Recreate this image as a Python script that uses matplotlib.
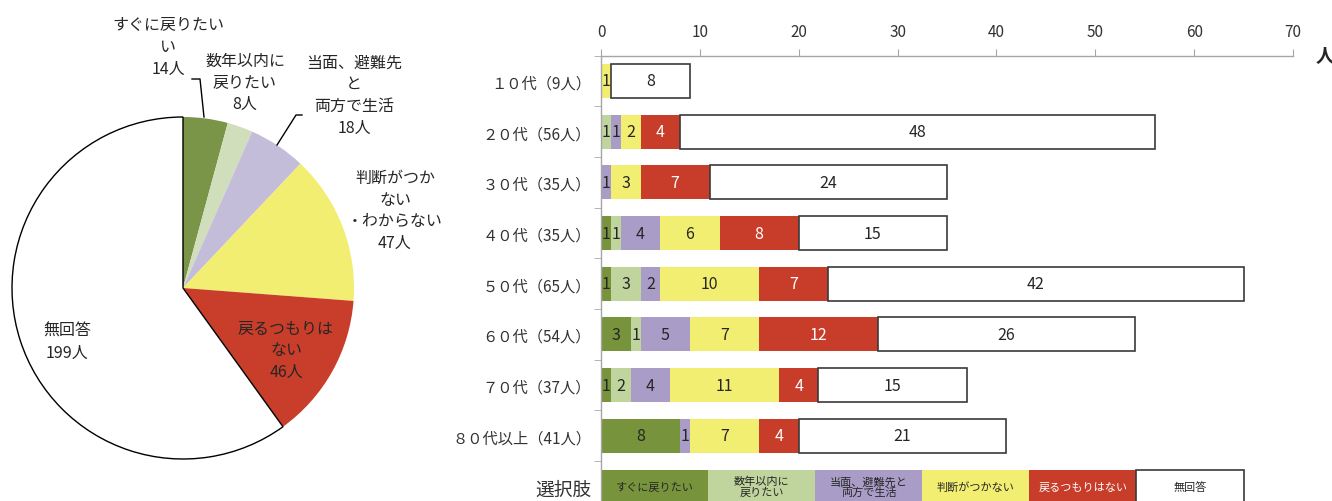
import matplotlib
matplotlib.use("Agg")
import matplotlib.pyplot as plt
import numpy as np

plt.rcParams['font.family'] = ['Noto Sans CJK JP', 'DejaVu Sans']

# ---- data ----
choices = ["すぐに戻りたい", "数年以内に\n戻りたい", "当面、避難先と\n両方で生活",
           "判断がつかない", "戻るつもりはない", "無回答"]
pie_values = [14, 8, 18, 47, 46, 199]
pie_labels = ["すぐに戻りたい\nい\n14人", "数年以内に\n戻りたい\n8人",
              "当面、避難先\nと\n両方で生活\n18人", "判断がつか\nない\n・わからない\n47人",
              "戻るつもりは\nない\n46人", "無回答\n199人"]

age_groups = ["１０代（9人）", "２０代（56人）", "３０代（35人）", "４０代（35人）",
              "５０代（65人）", "６０代（54人）", "７０代（37人）", "８０代以上（41人）"]
soon =      [0, 0, 0, 1, 1, 3, 1, 8]
few_years = [0, 1, 0, 1, 3, 1, 2, 0]
both =      [0, 1, 1, 4, 2, 5, 4, 1]
undecided = [1, 2, 3, 6, 10, 7, 11, 7]
no_return = [0, 4, 7, 8, 7, 12, 4, 4]
no_answer = [8, 48, 24, 15, 42, 26, 15, 21]
series = [soon, few_years, both, undecided, no_return, no_answer]
x_ticks = [0, 10, 20, 30, 40, 50, 60, 70]

bar_colors = ["#77933C", "#C0D59E", "#A99DC8", "#F2EE72", "#C83C2A", "#FFFFFF"]
pie_colors = ["#7A9448", "#D1DEBB", "#C4BDDA", "#F2EE72", "#C83E2A", "#FFFFFF"]
text_dark = "#262626"

W, H = 1332, 502
fig = plt.figure(figsize=(W / 100, H / 100), dpi=100)

# ---- pie ----
axp = fig.add_axes([0, 0, 441 / W, 1])
wedges, _ = axp.pie(pie_values, colors=pie_colors, startangle=90, counterclock=False,
                    center=(183, H - 289), radius=171,
                    wedgeprops=dict(linewidth=0))
wedges[-1].set_edgecolor("black")
wedges[-1].set_linewidth(1.0)
axp.set_xlim(0, 441)
axp.set_ylim(0, H)
axp.set_aspect("equal")
axp.axis("off")

label_pos = [(168, 47.5), (245, 82.5), (354, 95.5), (395, 211), (286, 351), (67, 342.5)]
for (lx, ly), txt in zip(label_pos, pie_labels):
    axp.text(lx, H - ly, txt, ha="center", va="center", multialignment="center",
             fontsize=11.5, linespacing=1.36, color=text_dark, clip_on=True)

# leader lines
axp.plot([192, 200, 204], [H - 80, H - 80, H - 118], color="black", lw=1)
axp.plot([302, 296, 277], [H - 116, H - 116, H - 146], color="black", lw=1)

# ---- stacked bars ----
top_px = 56.6
row_px = 50.7
n_rows = len(age_groups) + 1
ax = fig.add_axes([601 / W, 1 - (top_px + n_rows * row_px) / H,
                   692 / W, n_rows * row_px / H])
ypos = np.arange(len(age_groups))
bar_h = 0.67
left = np.zeros(len(age_groups))
for i, vals in enumerate(series):
    vals = np.array(vals, dtype=float)
    is_white = i == len(series) - 1
    ax.barh(ypos, vals, left=left, height=bar_h, color=bar_colors[i],
            edgecolor="#3A3A3A" if is_white else "none",
            linewidth=1.2 if is_white else 0)
    for y, l, v in zip(ypos, left, vals):
        if v > 0:
            ax.text(l + v / 2, y, f"{int(v)}", ha="center", va="center",
                    fontsize=11.5, color="white" if i == 4 else text_dark)
    left += vals

# legend row
legend_row = len(age_groups)
cell = 65 / len(choices)
for i, name in enumerate(choices):
    is_white = i == len(choices) - 1
    ax.barh(legend_row, cell, left=i * cell, height=bar_h, color=bar_colors[i],
            edgecolor="#3A3A3A" if is_white else "none",
            linewidth=1.2 if is_white else 0)
    ax.text(i * cell + cell / 2, legend_row, name, ha="center", va="center",
            fontsize=8, linespacing=1.05, multialignment="center",
            color="white" if i == 4 else text_dark)

ax.set_xlim(0, 70)
ax.set_ylim(n_rows - 0.5, -0.5)
ax.xaxis.tick_top()
ax.set_xticks(x_ticks)
ax.tick_params(axis="x", direction="out", length=5, color="#A6A6A6",
               labelsize=11, labelcolor="#333333", pad=6)
ax.set_yticks(np.arange(n_rows))
ax.set_yticklabels(age_groups + ["選択肢"])
ax.tick_params(axis="y", length=0, pad=7, labelsize=11, labelcolor="#333333")
ax.get_yticklabels()[-1].set_fontsize(13.5)
ax.set_yticks(np.arange(n_rows) - 0.5, minor=True)
ax.tick_params(axis="y", which="minor", length=5, color="#A6A6A6")
for s in ["right", "bottom"]:
    ax.spines[s].set_visible(False)
for s in ["top", "left"]:
    ax.spines[s].set_color("#A6A6A6")
    ax.spines[s].set_linewidth(1.0)

fig.text(1325 / W, 1 - 57 / H, "人", ha="center", va="center",
         fontsize=13.5, fontweight="bold", color="#262626")

fig.savefig("out.png", dpi=100)
